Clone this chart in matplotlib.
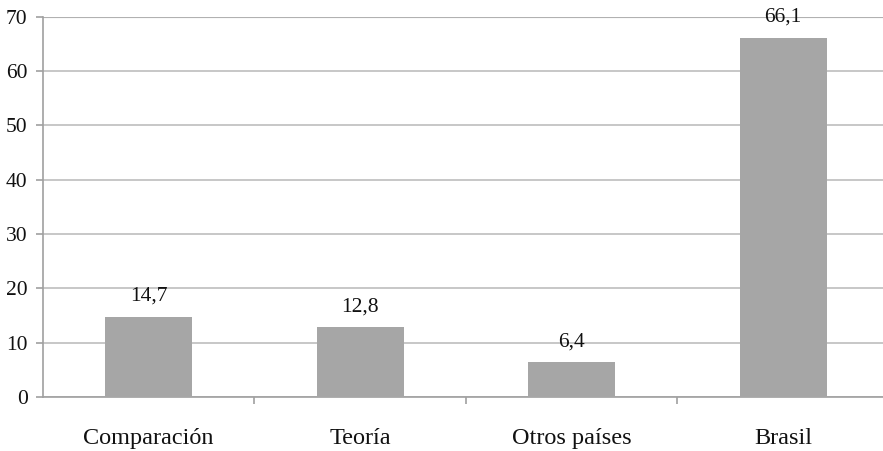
import matplotlib
matplotlib.use("Agg")
import matplotlib.pyplot as plt
import numpy as np

categories = ["Comparación", "Teoría", "Otros países", "Brasil"]
values = [14.7, 12.8, 6.4, 66.1]
value_labels = ["14,7", "12,8", "6,4", "66,1"]
y_ticks = [0, 10, 20, 30, 40, 50, 60, 70]

plt.rcParams["font.family"] = ["Liberation Serif", "DejaVu Serif"]

fig = plt.figure(figsize=(8.83, 4.51), dpi=100)
ax = fig.add_axes([0.0487, 0.1197, 0.958, 0.8437])

x = np.arange(len(categories))
ax.bar(x, values, width=0.41, color="#a6a6a6", zorder=3)

for xi, v, lab in zip(x, values, value_labels):
    ax.annotate(lab, (xi, v), xytext=(0, 8), textcoords="offset points",
                ha="center", va="bottom", fontsize=15.5, color="#111111", zorder=4)

ax.set_xlim(-0.5, len(categories) - 0.5)
ax.set_ylim(0, 70)
ax.set_yticks(y_ticks)
ax.set_yticklabels([str(t) for t in y_ticks], fontsize=15.5, color="#111111")
ax.yaxis.grid(True, color="#bdbdbd", linewidth=1.2, zorder=0)
ax.axhline(70, color="#7a7a7a", linewidth=1.5, zorder=1)

ax.set_xticks(x)
ax.set_xticklabels(categories, fontsize=17.5, color="#111111")
ax.tick_params(axis="x", length=0, pad=22)
ax.set_xticks(np.arange(0.5, len(categories) - 0.5, 1.0), minor=True)
ax.tick_params(axis="x", which="minor", length=5, color="#a0a0a0", width=1.2)
ax.tick_params(axis="y", length=5, color="#a0a0a0", width=1.2, pad=6)

for side in ["top", "right"]:
    ax.spines[side].set_visible(False)
ax.spines["left"].set_color("#a0a0a0")
ax.spines["bottom"].set_color("#a0a0a0")
ax.spines["left"].set_linewidth(1.2)
ax.spines["bottom"].set_linewidth(1.2)

fig.savefig("out.png", dpi=100)
